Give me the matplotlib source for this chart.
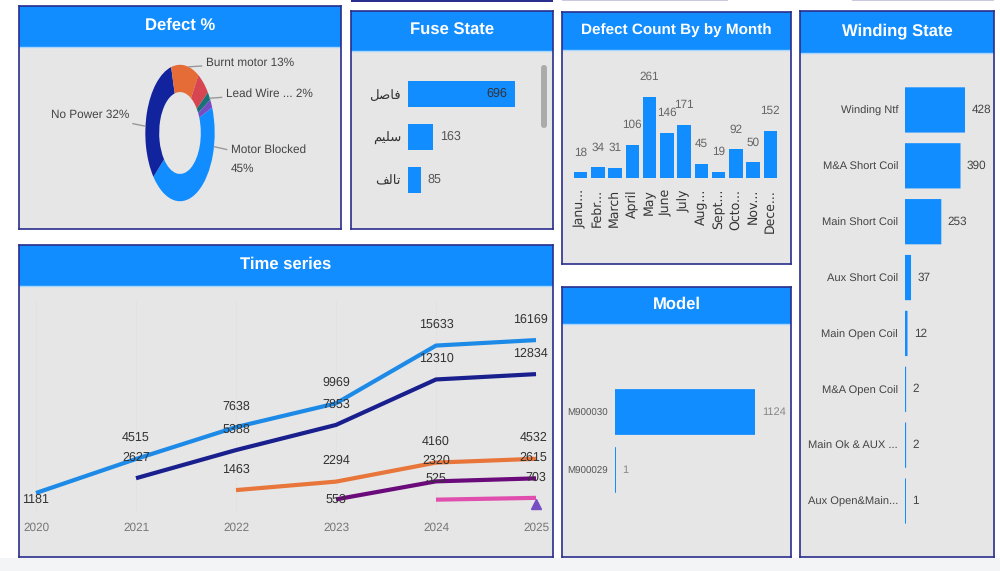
import matplotlib
matplotlib.use('Agg')
import matplotlib.pyplot as plt
from matplotlib.patches import Rectangle, FancyBboxPatch

plt.rcParams['font.family'] = ['Liberation Sans', 'DejaVu Sans']
plt.rcParams['text.hinting'] = 'no_hinting'

W, H = 1000, 571
BLUE = '#118DFF'
NAVY = '#2A2E8C'
BG = '#E6E6E6'

# donut
defect_names = ['Motor Blocked', 'No Power', 'Burnt motor', 'Other', 'Lead Wire', 'Other 2']
defect_pct = [45, 32, 13, 6, 2, 2]
defect_colors = ['#118DFF', '#12239E', '#E66C37', '#D64550', '#197278', '#744EC2']

# fuse (arabic written as presentation forms in visual order, no shaping in mpl)
fuse_names = ['\uFEDE\uFEBB\uFE8E\uFED3', '\uFEE2\uFEF4\uFEE0\uFEB3', '\uFED2\uFEDF\uFE8E\uFE97']
fuse_vals = [696, 163, 85]

months = ['Janu...', 'Febr...', 'March', 'April', 'May', 'June', 'July', 'Aug...',
          'Sept...', 'Octo...', 'Nov...', 'Dece...']
month_vals = [18, 34, 31, 106, 261, 146, 171, 45, 19, 92, 50, 152]

winding_names = ['Winding Ntf', 'M&A Short Coil', 'Main Short Coil', 'Aux Short Coil',
                 'Main Open Coil', 'M&A Open Coil', 'Main Ok & AUX ...', 'Aux Open&Main...']
winding_vals = [428, 390, 253, 37, 12, 2, 2, 1]

model_names = ['M900030', 'M900029']
model_vals = [1124, 1]

# time series, each one starts at a later year
years = [2020, 2021, 2022, 2023, 2024, 2025]
s_blue = [1181, 4515, 7638, 9969, 15633, 16169]
s_navy = [2627, 5388, 7853, 12310, 12834]
s_orange = [1463, 2294, 4160, 4532]
s_purple = [553, 2320, 2615]
s_pink = [525, 703]
s_violet = [100]


def px_axes(x0, y0, x1, y1):
    # axes placed with pixel coords, y counted from the top
    ax = fig.add_axes([x0 / W, 1 - y1 / H, (x1 - x0) / W, (y1 - y0) / H])
    ax.patch.set_alpha(0)
    return ax


def panel(x0, y0, x1, y1, head, title, tsize=12):
    ax = px_axes(x0, y0, x1, y1)
    ax.set_facecolor(BG)
    ax.patch.set_alpha(1)
    ax.set_xlim(x0, x1)
    ax.set_ylim(y1, y0)
    ax.set_xticks([])
    ax.set_yticks([])
    for s in ax.spines.values():
        s.set_color(NAVY)
        s.set_linewidth(1.2)
    ax.add_patch(Rectangle((x0, y0), x1 - x0, head - y0, color=BLUE, lw=0))
    ax.plot([x0, x1], [head, head], color='#A9D5FF', lw=1)
    ax.text((x0 + x1) / 2, (y0 + head) / 2 - 1, title, color='white', fontsize=tsize,
            fontweight='bold', ha='center', va='center')
    return ax


def hbars(ax, names, vals, height, labcol, valcol, size=8, valsize=8.5):
    pos = list(range(len(vals)))
    ax.barh(pos, vals, height=height, color=BLUE, edgecolor=BLUE, linewidth=1.2, snap=False)
    ax.set_xlim(0, max(vals))
    ax.set_ylim(len(vals) - 0.5, -0.5)
    ax.set_xticks([])
    ax.set_yticks(pos)
    ax.set_yticklabels(names, fontsize=size, color=labcol)
    ax.tick_params(axis='y', length=0, pad=5)
    for s in ax.spines.values():
        s.set_visible(False)
    for i, v in zip(pos, vals):
        ax.annotate(str(v), (v, i), xytext=(5, 0), textcoords='offset points',
                    ha='left', va='center', fontsize=valsize, color=valcol, annotation_clip=False)


fig = plt.figure(figsize=(W / 100, H / 100), dpi=100, facecolor='white')

# strip at the bottom and bits of cut off panels at the top
back = px_axes(0, 0, W, H)
back.set_xlim(0, W)
back.set_ylim(H, 0)
back.axis('off')
back.add_patch(Rectangle((0, 558), W, 13, color='#F3F4F6', lw=0))
back.add_patch(Rectangle((351, 0), 202, 2, color=NAVY, lw=0))
back.add_patch(Rectangle((562, 0), 166, 1, color='#C9C9E0', lw=0))
back.add_patch(Rectangle((852, 0), 142, 1, color='#C9C9E0', lw=0))

# Defect %
panel(19, 6, 341, 229, 47, 'Defect %')
ax = px_axes(137, 60, 223, 206)
ax.pie(defect_pct, colors=defect_colors, startangle=22, counterclock=False,
       radius=1.0, wedgeprops=dict(width=0.4, linewidth=0))
ax.set_aspect('auto')
ax.set_xlim(-1.24, 1.24)
ax.set_ylim(-1.07, 1.07)
grey = dict(arrowstyle='-', color='#999999', lw=1, shrinkA=1, shrinkB=0)
pie_labels = [('Burnt motor 13%', (0.25, 0.97), (206, 63), 'left'),
              ('Lead Wire ... 2%', (0.86, 0.51), (226, 94), 'left'),
              ('No Power 32%', (-1.0, 0.1), (129, 115), 'right'),
              ('Motor Blocked\n45%', (0.98, -0.2), (231, 159), 'left')]
for txt, xy, xyt, al in pie_labels:
    ax.annotate(txt, xy=xy, xycoords='data', xytext=(xyt[0] / W, 1 - xyt[1] / H),
                textcoords='figure fraction', ha=al, va='center', fontsize=8.5,
                color='#444444', linespacing=1.9, arrowprops=grey)

# Fuse State
p = panel(351, 11, 553, 229, 51, 'Fuse State')
p.add_patch(FancyBboxPatch((541, 65), 6, 63, boxstyle='round,pad=0,rounding_size=3',
                           facecolor='#ABABAB', edgecolor='none', mutation_aspect=1))
ax = px_axes(408, 72.5, 514.5, 201.5)
ax.barh(range(3), fuse_vals, height=0.6, color=BLUE)
ax.set_xlim(0, max(fuse_vals))
ax.set_ylim(2.5, -0.5)
ax.set_xticks([])
ax.set_yticks(range(3))
ax.set_yticklabels(fuse_names, fontsize=9.5, color='#333333')
ax.tick_params(axis='y', length=0, pad=5)
for s in ax.spines.values():
    s.set_visible(False)
for i, v in enumerate(fuse_vals):
    if v == max(fuse_vals):
        ax.annotate(str(v), (v, i), xytext=(-5, 0), textcoords='offset points',
                    ha='right', va='center', fontsize=9, color='#333333')
    else:
        ax.annotate(str(v), (v, i), xytext=(5, 0), textcoords='offset points',
                    ha='left', va='center', fontsize=9, color='#555555')

# Defect Count By by Month
panel(562, 12, 791, 264, 50, 'Defect Count By by Month', tsize=11)
ax = px_axes(572, 97, 779, 178)
ax.bar(range(12), month_vals, width=0.78, color=BLUE)
ax.set_xlim(-0.5, 11.5)
ax.set_ylim(0, max(month_vals))
ax.set_yticks([])
ax.set_xticks(range(12))
ax.set_xticklabels(months, rotation=90, fontsize=9, color='#333333', family='DejaVu Sans')
ax.tick_params(axis='x', length=0, pad=8)
for s in ax.spines.values():
    s.set_visible(False)
for i, v in enumerate(month_vals):
    ax.annotate(str(v), (i, v), xytext=(0, 14.5), textcoords='offset points', ha='center',
                va='center', fontsize=8.5, color='#666666', annotation_clip=False)

# Winding State
panel(800, 11, 994, 557, 53, 'Winding State')
ax = px_axes(905, 82, 965, 529)
hbars(ax, winding_names, winding_vals, 0.78, '#444444', '#444444')

# Time series
panel(19, 245, 553, 557, 286, 'Time series')
ax = px_axes(36, 300, 536, 514)
ax.set_xlim(2020, 2025)
ax.set_ylim(-880, 20100)
ax.set_yticks([])
ax.set_xticks(years)
ax.set_xticklabels(years, fontsize=8.5, color='#777777')
ax.tick_params(axis='x', length=0, pad=6)
for s in ax.spines.values():
    s.set_visible(False)
for y in years:
    ax.axvline(y, color='#DADADA', lw=0.6, ls=':', zorder=1)
series = [(s_blue, '#1C8AE6'), (s_navy, '#1A1F8E'), (s_orange, '#E8753A'),
          (s_purple, '#6B0A7B'), (s_pink, '#E04FAE')]
for vals, col in series:
    xs = years[-len(vals):]
    ax.plot(xs, vals, color=col, lw=3, solid_capstyle='butt', clip_on=False, zorder=2)
    for x, v in zip(xs, vals):
        dx, dy = 0, 15
        if v == 1181:
            dy = -5
        elif v == 553:
            dy = 0
        elif x == 2025:
            dx = {16169: -4, 12834: -4, 4532: -2, 2615: -2}.get(v, 0)
        ax.annotate(str(v), (x, v), xytext=(dx, dy), textcoords='offset points', ha='center',
                    va='center', fontsize=9, color='#333333', annotation_clip=False, zorder=3)
ax.plot(years[-1:], s_violet, marker='^', ms=7, color='#744EC2', clip_on=False, zorder=2)

# Model
panel(562, 287, 791, 557, 324, 'Model')
ax = px_axes(615, 383, 755, 499)
hbars(ax, model_names, model_vals, 0.76, '#555555', '#888888', size=7, valsize=8)

fig.savefig('out.png', dpi=100)
